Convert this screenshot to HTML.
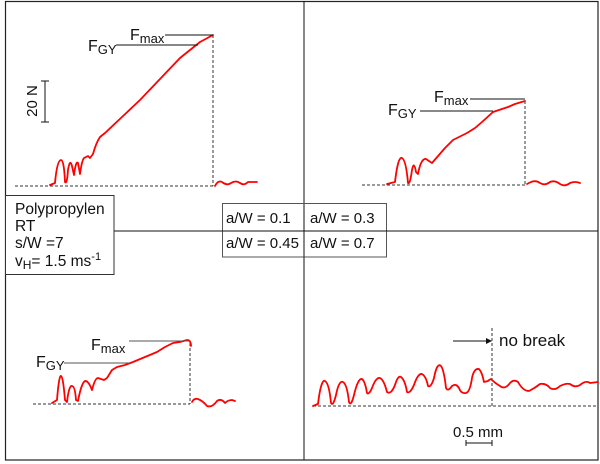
<!DOCTYPE html>
<html><head><meta charset="utf-8"><style>
html,body{margin:0;padding:0;background:#fff}
svg{display:block}
text{font-family:"Liberation Sans",Arial,sans-serif;fill:#111}
</style></head><body>
<svg width="600" height="464" viewBox="0 0 600 464" xmlns="http://www.w3.org/2000/svg">
<rect x="5.5" y="1.5" width="592.5" height="458.5" fill="#fff" stroke="#222" stroke-width="1.2"/>
<line x1="304" y1="1" x2="304" y2="460" stroke="#111" stroke-width="1"/>
<line x1="5" y1="231" x2="598" y2="231" stroke="#111" stroke-width="1"/>

<g fill="none" stroke="#333" stroke-width="1" stroke-dasharray="3,2">
<line x1="15" y1="186" x2="213" y2="186"/>
<line x1="213" y1="35" x2="213" y2="186"/>
<line x1="362" y1="185" x2="525" y2="185"/>
<line x1="525" y1="101" x2="525" y2="185"/>
<line x1="33" y1="404" x2="190" y2="404"/>
<line x1="190" y1="343" x2="190" y2="404"/>
<line x1="313" y1="406" x2="598" y2="406"/>
<line x1="492" y1="328" x2="492" y2="406"/>
</g>

<g fill="none" stroke="#f00" stroke-width="1.8" stroke-linejoin="round" stroke-linecap="round">
<path d="M50,185 L55,183 Q57,160 61,160 Q64,160 65,182 Q67,185 68,170 Q70,158 72,166 L74,175 Q76,160 78,163 L80,174 Q82,160 84,158 L88,156 L90,158 L93,154 Q96,143 100,137 L105,133 L140,100 L180,58 L200,42 L213,35"/>
<path d="M215,186 Q218,180 222,182 Q227,186 231,183 Q236,180 240,183 Q244,186 248,182 L257,182"/>
<path d="M387,184 L395,182 Q398,156 402,158 Q406,160 408,183 Q410,185 412,170 Q414,160 416,172 L418,174 Q421,158 426,159 L432,163 L445,148 L453,140 L467,133 L475,128 L482,122 L493,112 L508,107 L515,104 L525,101"/>
<path d="M527,184 L531,182 Q536,180 540,183 Q545,186 550,182 Q555,180 560,184 Q565,187 570,183 Q575,181 580,183"/>
<path d="M52,403 L57,400 Q59,375 61,376 Q63,376 65,400 L67,402 Q69,385 72,386 Q75,386 76,400 L78,401 Q82,380 86,381 Q89,382 92,390 Q95,378 98,378 L104,380 L107,378 L112,370 L117,367 L125,365 L133,362 L145,357 L157,352 L165,347 L173,343 L180,342 L187,340 Q191,340 191,346"/>
<path d="M192,402 Q194,398 198,399 Q203,401 207,406 Q212,408 217,401 Q221,398 225,403 Q228,400 232,400 L235,401"/>
<path d="M313,406 L318,404 Q321,379 325,381 Q329,383 331,403 Q333,407 336,395 Q339,380 343,382 Q347,384 349,402 Q351,407 354,395 Q358,378 362,379 Q365,381 367,393 Q369,395 372,388 Q376,377 380,378 Q384,380 387,392 Q391,395 395,385 Q398,375 401,377 Q405,380 407,392 Q410,394 414,385 Q418,373 422,374 Q426,376 428,386 Q431,388 434,378 Q437,362 441,366 Q444,370 446,388 Q448,392 452,386 Q456,383 459,388 Q461,394 466,393 Q470,392 472,378 Q474,368 479,369 Q482,372 484,382 L488,381 Q491,378 492,380 Q495,383 500,386 Q505,390 510,383 Q514,379 518,382 Q523,391 529,391 Q535,388 540,384 Q546,383 550,388 Q555,391 560,386 Q566,383 570,384 Q575,388 580,385 Q586,380 590,383 L598,382"/>
</g>

<g stroke="#111" stroke-width="1" fill="none">
<line x1="116" y1="45" x2="198" y2="45"/>
<line x1="165" y1="35" x2="213" y2="35"/>
<line x1="45" y1="81" x2="45" y2="122"/>
<line x1="41" y1="81" x2="49" y2="81"/>
<line x1="41" y1="122" x2="49" y2="122"/>
<line x1="420" y1="111" x2="493" y2="111"/>
<line x1="470" y1="99" x2="525" y2="99"/>
<line x1="64" y1="363" x2="130" y2="363" stroke="#555"/>
<line x1="129" y1="341" x2="188" y2="341" stroke="#555"/>
<line x1="453" y1="341" x2="486" y2="341"/>
<line x1="466" y1="443" x2="492" y2="443"/>
<line x1="466" y1="440" x2="466" y2="446"/>
<line x1="492" y1="440" x2="492" y2="446"/>
</g>
<polygon points="486,338 492,341 486,344" fill="#111"/>

<text x="88" y="51" font-size="16">F<tspan font-size="13" dy="3">GY</tspan></text>
<text x="130" y="40" font-size="16">F<tspan font-size="13" dy="3">max</tspan></text>
<text transform="translate(37,101) rotate(-90)" font-size="15" text-anchor="middle">20 N</text>
<text x="388" y="115" font-size="16">F<tspan font-size="13" dy="3">GY</tspan></text>
<text x="434" y="102" font-size="16">F<tspan font-size="13" dy="3">max</tspan></text>
<text x="36" y="367" font-size="16">F<tspan font-size="13" dy="3">GY</tspan></text>
<text x="91" y="350" font-size="16">F<tspan font-size="13" dy="3">max</tspan></text>
<text x="499" y="346" font-size="17">no break</text>
<text x="453" y="437" font-size="15">0.5 mm</text>

<rect x="5.5" y="195.5" width="108.5" height="79" fill="#fff" stroke="#333" stroke-width="1"/>
<text x="15" y="214" font-size="15.5">Polypropylen</text>
<text x="15" y="231" font-size="15.5">RT</text>
<text x="15" y="248" font-size="15.5">s/W =7</text>
<text x="15" y="266" font-size="15.5">v<tspan font-size="12" dy="3">H</tspan><tspan dy="-3">= 1.5 ms</tspan><tspan font-size="11" dy="-6">-1</tspan></text>

<rect x="222.5" y="203.5" width="164" height="53.5" fill="#fff" stroke="#555" stroke-width="1"/>
<line x1="222" y1="231" x2="387" y2="231" stroke="#111"/>
<line x1="304" y1="204" x2="304" y2="257" stroke="#111"/>
<text x="226" y="223" font-size="15">a/W = 0.1</text>
<text x="310" y="223" font-size="15">a/W = 0.3</text>
<text x="226" y="248" font-size="15">a/W = 0.45</text>
<text x="310" y="248" font-size="15">a/W = 0.7</text>
</svg>
</body></html>
